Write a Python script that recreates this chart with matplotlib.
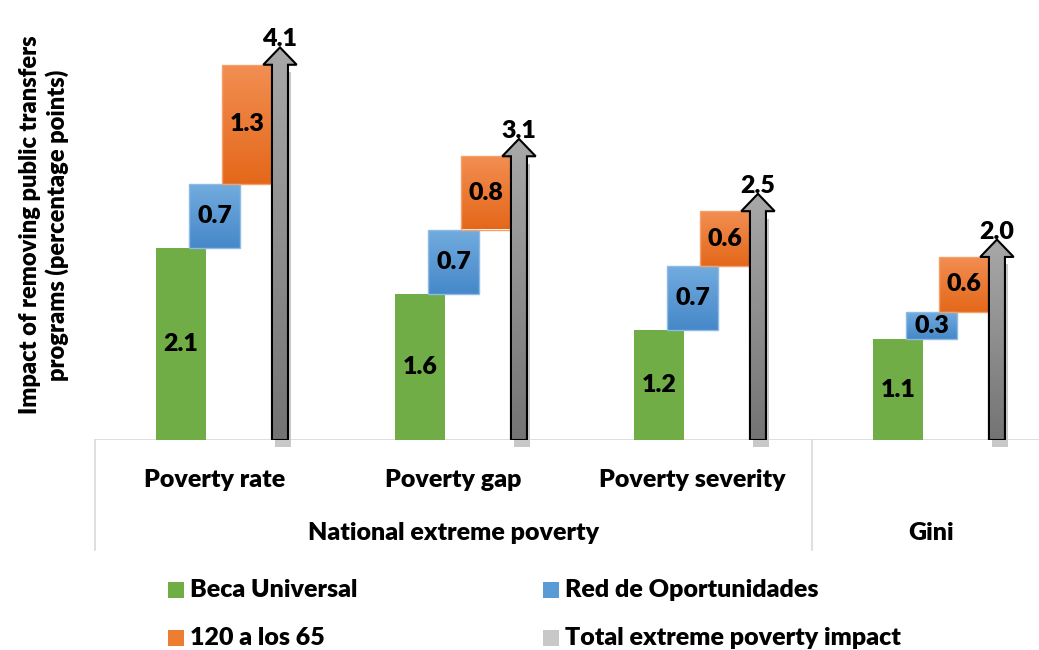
import numpy as np
import matplotlib
matplotlib.use('Agg')
import matplotlib.pyplot as plt
from matplotlib.patches import Rectangle, FancyArrow
from matplotlib.colors import to_rgb

# Data
indicators = ['Poverty rate', 'Poverty gap', 'Poverty severity', '']
groups = ['National extreme poverty', 'Gini']
group_spans = [(0, 2), (3, 3)]
beca = [2.1, 1.6, 1.2, 1.1]
red = [0.7, 0.7, 0.7, 0.3]
prog_120 = [1.3, 0.8, 0.6, 0.6]
total = [4.1, 3.1, 2.5, 2.0]
series_names = ['Beca Universal', 'Red de Oportunidades',
                '120 a los 65', 'Total extreme poverty impact']

plt.rcParams['font.family'] = ['Lato', 'DejaVu Sans']
FW = 'heavy'

W, H = 1039, 650


def gradient_patch(ax, patch, top, bottom, extent, z):
    """Fill a patch with a vertical colour gradient."""
    ax.add_patch(patch)
    t = np.linspace(0, 1, 60)[:, None]
    grad = (1 - t) * np.array(to_rgb(top)) + t * np.array(to_rgb(bottom))
    im = ax.imshow(grad[:, None, :], extent=extent, aspect='auto',
                   interpolation='bilinear', origin='upper', zorder=z)
    im.set_clip_path(patch)


fig = plt.figure(figsize=(W / 100, H / 100), dpi=100)
ax = fig.add_axes([95 / W, 210 / H, 944 / W, 421 / H])

bw = 0.21
offs = [-0.14, 0.0, 0.136, 0.274]
for i in range(len(beca)):
    # green - flat
    xg = i + offs[0]
    ax.add_patch(Rectangle((xg - bw / 2, 0), bw, beca[i], facecolor='#70ad47',
                           edgecolor='none', zorder=3))
    ax.text(xg, beca[i] / 2, f'{beca[i]:.1f}', ha='center', va='center',
            fontsize=18, fontweight=FW, zorder=6)

    # blue - floating
    xb = i + offs[1]
    y0 = beca[i]
    r = Rectangle((xb - bw / 2, y0), bw, red[i], facecolor='none',
                  edgecolor='#8dbbe6', lw=1, zorder=4)
    gradient_patch(ax, r, '#72acdf', '#4688c9',
                   (xb - bw / 2, xb + bw / 2, y0, y0 + red[i]), 3)
    ax.text(xb, y0 + red[i] / 2, f'{red[i]:.1f}', ha='center', va='center',
            fontsize=18, fontweight=FW, zorder=6)

    # orange - floating
    xo = i + offs[2]
    y1 = beca[i] + red[i]
    r = Rectangle((xo - bw / 2, y1), bw, prog_120[i], facecolor='none',
                  edgecolor='#f3a06c', lw=1, zorder=4)
    gradient_patch(ax, r, '#f28e52', '#e4681a',
                   (xo - bw / 2, xo + bw / 2, y1, y1 + prog_120[i]), 3)
    ax.text(xo, y1 + prog_120[i] / 2, f'{prog_120[i]:.1f}', ha='center',
            va='center', fontsize=18, fontweight=FW, zorder=6)

    # total - shadow bar + arrow
    xa = i + offs[3]
    sw = 0.067
    hl = 0.19
    ax.add_patch(Rectangle((xa - sw / 2 + 0.012, -0.08), sw, total[i],
                           facecolor='#c8c8c8', edgecolor='none', zorder=2,
                           clip_on=False))
    arr = FancyArrow(xa, 0, 0, total[i], width=sw, head_width=0.14,
                     head_length=hl, length_includes_head=False,
                     facecolor='none', edgecolor='black', lw=1.5, zorder=5)
    gradient_patch(ax, arr, '#a8a8a8', '#747474',
                   (xa - 0.08, xa + 0.08, 0, total[i] + hl), 4)
    ax.text(xa, total[i] + hl + 0.01, f'{total[i]:.1f}', ha='center',
            va='baseline', fontsize=18, fontweight=FW, zorder=6)

ax.set_xlim(-0.5, 3.45)
ax.set_ylim(0, 4.6)
for s in ax.spines.values():
    s.set_visible(False)
ax.set_yticks([])
ax.set_xticks([])
ax.axhline(0, color='#d9d9d9', lw=1.2, zorder=1)

# multi-level category axis
xt = ax.get_xaxis_transform()
for i, lab in enumerate(indicators):
    ax.text(i, -0.095, lab, transform=xt, ha='center', va='center',
            fontsize=18, fontweight=FW)
for g, (a, b) in zip(groups, group_spans):
    ax.text((a + b) / 2, -0.221, g, transform=xt, ha='center', va='center',
            fontsize=18, fontweight=FW)
for xs in [-0.5, 2.5]:
    ax.plot([xs, xs], [0, -0.262], transform=xt, color='#d9d9d9', lw=1.2,
            clip_on=False)

fig.text(44 / W, 1 - 225 / H,
         'Impact of removing public transfers\nprograms (percentage points)',
         rotation=90, ha='center', va='center', fontsize=17,
         fontweight=FW, multialignment='center', linespacing=1.2)

# legend, drawn by hand
leg_colors = ['#70ad47', '#5b9bd5', '#ed7d31', '#c8c8c8']
leg_pos = [(168, 590), (543, 590), (168, 638), (543, 638)]
sq = 16
for name, c, (px, py) in zip(series_names, leg_colors, leg_pos):
    fig.patches.append(Rectangle((px / W, (H - py - sq / 2) / H), sq / W, sq / H,
                                 transform=fig.transFigure, facecolor=c,
                                 edgecolor='none'))
    fig.text((px + sq + 6) / W, (H - py) / H, name, ha='left', va='center',
             fontsize=18, fontweight=FW)

fig.savefig('out.png', dpi=100)
